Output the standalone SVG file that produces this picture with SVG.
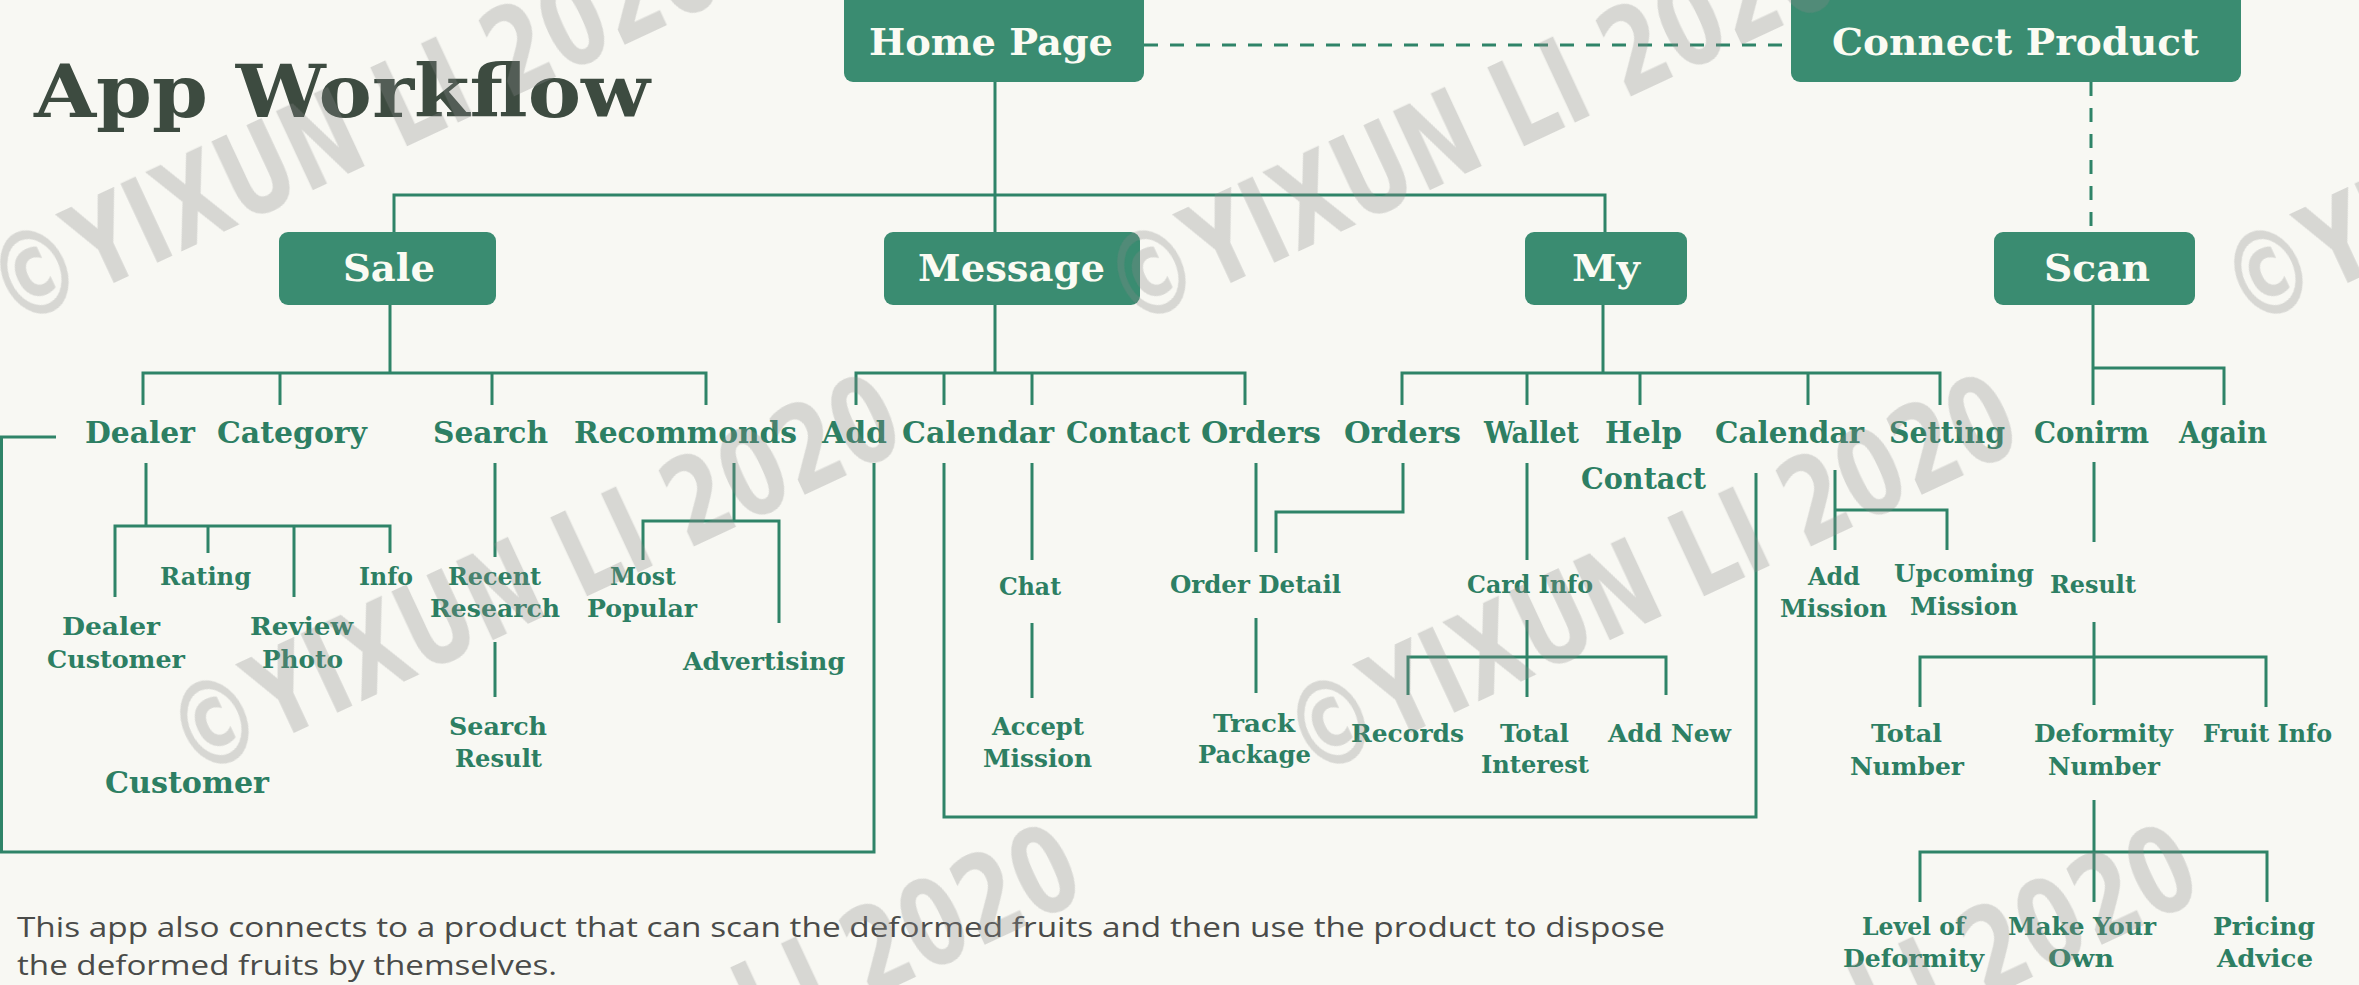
<svg xmlns="http://www.w3.org/2000/svg" width="2359" height="985" viewBox="0 0 2359 985">
<style>
.bx{fill:#3a8c71}
.bt{font-family:"DejaVu Serif Condensed","DejaVu Serif",serif;font-weight:bold;font-size:38px;fill:#fbfbf3}
.l1{font-family:"DejaVu Serif Condensed","DejaVu Serif",serif;font-weight:bold;font-size:29px;fill:#2d7f63}
.l2{font-family:"DejaVu Serif Condensed","DejaVu Serif",serif;font-weight:bold;font-size:24px;fill:#2d7f63}
.ttl{font-family:"DejaVu Serif Condensed","DejaVu Serif",serif;font-weight:bold;font-size:72px;fill:#3d4b40}
.desc{font-family:"Open Sans","Liberation Sans",sans-serif;font-size:28px;fill:#4a4b49}
.ln{stroke:#2f8468;stroke-width:3;fill:none}
.dash{stroke-dasharray:14 12}
.wm{font-family:"DejaVu Sans Condensed","DejaVu Sans",sans-serif;font-weight:bold;font-size:120px;fill:#8a8a8a}
</style>
<rect x="0" y="0" width="2359" height="985" fill="#f8f8f3"/>

<g id="connectors">
<path class="ln dash" d="M1144 45H1791"/>
<path class="ln dash" d="M2091 82V232"/>
<path class="ln" d="M995 82V232"/>
<path class="ln" d="M394 232V195H1605V232"/>
<path class="ln" d="M390 305V373M143 405V373H706V405M280 373V405M492 373V405"/>
<path class="ln" d="M995 305V373M856 405V373H1245V405M944 373V405M1032 373V405"/>
<path class="ln" d="M1603 305V373M1402 405V373H1940V405M1527 373V405M1640 373V405M1808 373V405"/>
<path class="ln" d="M2093 305V405M2093 368H2224V405"/>
<path class="ln" d="M146 463V526M115 597V526H390V553M208 526V553M294 526V597"/>
<path class="ln" d="M495 463V557M495 642V697"/>
<path class="ln" d="M734 463V521M643 560V521H779V623"/>
<path class="ln" d="M874 463V852H1.5V437H56"/>
<path class="ln" d="M944 463V817H1756V473"/>
<path class="ln" d="M1032 463V560M1032 623V698"/>
<path class="ln" d="M1256 463V552M1256 618V693"/>
<path class="ln" d="M1403 463V512H1276V553"/>
<path class="ln" d="M1527 463V560M1527 620V697M1408 695V657H1666V695"/>
<path class="ln" d="M1835 470V550M1835 510H1947V550"/>
<path class="ln" d="M2094 462V542M2094 622V705M1920 707V657H2266V707"/>
<path class="ln" d="M2094 800V902M1920 902V852H2267V902"/>
</g>

<g id="title"><text class="ttl" x="34" y="117" textLength="616" lengthAdjust="spacingAndGlyphs">App Workflow</text></g>

<g id="home-page"><rect class="bx" x="844" y="-10" width="300" height="92" rx="9"/><text class="bt" x="869" y="55" textLength="244" lengthAdjust="spacingAndGlyphs">Home Page</text></g>
<g id="connect-product"><rect class="bx" x="1791" y="-10" width="450" height="92" rx="9"/><text class="bt" x="1832" y="55" textLength="367" lengthAdjust="spacingAndGlyphs">Connect Product</text></g>
<g id="sale"><rect class="bx" x="279" y="232" width="217" height="73" rx="9"/><text class="bt" x="343" y="281" textLength="92" lengthAdjust="spacingAndGlyphs">Sale</text></g>
<g id="message"><rect class="bx" x="884" y="232" width="256" height="73" rx="9"/><text class="bt" x="918" y="281" textLength="187" lengthAdjust="spacingAndGlyphs">Message</text></g>
<g id="my"><rect class="bx" x="1525" y="232" width="162" height="73" rx="9"/><text class="bt" x="1572" y="281" textLength="68" lengthAdjust="spacingAndGlyphs">My</text></g>
<g id="scan"><rect class="bx" x="1994" y="232" width="201" height="73" rx="9"/><text class="bt" x="2044" y="281" textLength="106" lengthAdjust="spacingAndGlyphs">Scan</text></g>

<g id="dealer"><text class="l1" x="85" y="443" textLength="110" lengthAdjust="spacingAndGlyphs">Dealer</text></g>
<g id="category"><text class="l1" x="217" y="443" textLength="150" lengthAdjust="spacingAndGlyphs">Category</text></g>
<g id="search"><text class="l1" x="433" y="443" textLength="115" lengthAdjust="spacingAndGlyphs">Search</text></g>
<g id="recommonds"><text class="l1" x="574" y="443" textLength="223" lengthAdjust="spacingAndGlyphs">Recommonds</text></g>
<g id="add"><text class="l1" x="822" y="443" textLength="65" lengthAdjust="spacingAndGlyphs">Add</text></g>
<g id="calendar-msg"><text class="l1" x="902" y="443" textLength="152" lengthAdjust="spacingAndGlyphs">Calendar</text></g>
<g id="contact"><text class="l1" x="1066" y="443" textLength="124" lengthAdjust="spacingAndGlyphs">Contact</text></g>
<g id="orders-msg"><text class="l1" x="1201" y="443" textLength="120" lengthAdjust="spacingAndGlyphs">Orders</text></g>
<g id="orders-my"><text class="l1" x="1344" y="443" textLength="117" lengthAdjust="spacingAndGlyphs">Orders</text></g>
<g id="wallet"><text class="l1" x="1484" y="443" textLength="95" lengthAdjust="spacingAndGlyphs">Wallet</text></g>
<g id="help-contact"><text class="l1" x="1605" y="443" textLength="77" lengthAdjust="spacingAndGlyphs">Help</text><text class="l1" x="1581" y="489" textLength="125" lengthAdjust="spacingAndGlyphs">Contact</text></g>
<g id="calendar-my"><text class="l1" x="1715" y="443" textLength="149" lengthAdjust="spacingAndGlyphs">Calendar</text></g>
<g id="setting"><text class="l1" x="1889" y="443" textLength="116" lengthAdjust="spacingAndGlyphs">Setting</text></g>
<g id="conirm"><text class="l1" x="2034" y="443" textLength="115" lengthAdjust="spacingAndGlyphs">Conirm</text></g>
<g id="again"><text class="l1" x="2179" y="443" textLength="88" lengthAdjust="spacingAndGlyphs">Again</text></g>

<g id="rating"><text class="l2" x="160" y="585" textLength="91" lengthAdjust="spacingAndGlyphs">Rating</text></g>
<g id="info"><text class="l2" x="359" y="585" textLength="54" lengthAdjust="spacingAndGlyphs">Info</text></g>
<g id="dealer-customer"><text class="l2" x="62" y="635" textLength="98" lengthAdjust="spacingAndGlyphs">Dealer</text><text class="l2" x="47" y="668" textLength="138" lengthAdjust="spacingAndGlyphs">Customer</text></g>
<g id="review-photo"><text class="l2" x="250" y="635" textLength="103" lengthAdjust="spacingAndGlyphs">Review</text><text class="l2" x="262" y="668" textLength="81" lengthAdjust="spacingAndGlyphs">Photo</text></g>
<g id="recent-research"><text class="l2" x="448" y="585" textLength="93" lengthAdjust="spacingAndGlyphs">Recent</text><text class="l2" x="430" y="617" textLength="130" lengthAdjust="spacingAndGlyphs">Research</text></g>
<g id="search-result"><text class="l2" x="449" y="735" textLength="98" lengthAdjust="spacingAndGlyphs">Search</text><text class="l2" x="455" y="767" textLength="87" lengthAdjust="spacingAndGlyphs">Result</text></g>
<g id="most-popular"><text class="l2" x="610" y="585" textLength="66" lengthAdjust="spacingAndGlyphs">Most</text><text class="l2" x="587" y="617" textLength="110" lengthAdjust="spacingAndGlyphs">Popular</text></g>
<g id="advertising"><text class="l2" x="683" y="670" textLength="162" lengthAdjust="spacingAndGlyphs">Advertising</text></g>
<g id="customer"><text class="l1" x="105" y="793" textLength="164" lengthAdjust="spacingAndGlyphs">Customer</text></g>
<g id="chat"><text class="l2" x="999" y="595" textLength="62" lengthAdjust="spacingAndGlyphs">Chat</text></g>
<g id="accept-mission"><text class="l2" x="992" y="735" textLength="92" lengthAdjust="spacingAndGlyphs">Accept</text><text class="l2" x="983" y="767" textLength="109" lengthAdjust="spacingAndGlyphs">Mission</text></g>
<g id="order-detail"><text class="l2" x="1170" y="593" textLength="171" lengthAdjust="spacingAndGlyphs">Order Detail</text></g>
<g id="track-package"><text class="l2" x="1213" y="732" textLength="82" lengthAdjust="spacingAndGlyphs">Track</text><text class="l2" x="1198" y="763" textLength="113" lengthAdjust="spacingAndGlyphs">Package</text></g>
<g id="card-info"><text class="l2" x="1467" y="593" textLength="126" lengthAdjust="spacingAndGlyphs">Card Info</text></g>
<g id="records"><text class="l2" x="1351" y="742" textLength="113" lengthAdjust="spacingAndGlyphs">Records</text></g>
<g id="total-interest"><text class="l2" x="1500" y="742" textLength="69" lengthAdjust="spacingAndGlyphs">Total</text><text class="l2" x="1481" y="773" textLength="108" lengthAdjust="spacingAndGlyphs">Interest</text></g>
<g id="add-new"><text class="l2" x="1608" y="742" textLength="123" lengthAdjust="spacingAndGlyphs">Add New</text></g>
<g id="add-mission"><text class="l2" x="1808" y="585" textLength="52" lengthAdjust="spacingAndGlyphs">Add</text><text class="l2" x="1780" y="617" textLength="107" lengthAdjust="spacingAndGlyphs">Mission</text></g>
<g id="upcoming-mission"><text class="l2" x="1894" y="582" textLength="140" lengthAdjust="spacingAndGlyphs">Upcoming</text><text class="l2" x="1910" y="615" textLength="108" lengthAdjust="spacingAndGlyphs">Mission</text></g>
<g id="result"><text class="l2" x="2050" y="593" textLength="86" lengthAdjust="spacingAndGlyphs">Result</text></g>
<g id="total-number"><text class="l2" x="1871" y="742" textLength="71" lengthAdjust="spacingAndGlyphs">Total</text><text class="l2" x="1850" y="775" textLength="114" lengthAdjust="spacingAndGlyphs">Number</text></g>
<g id="deformity-number"><text class="l2" x="2034" y="742" textLength="139" lengthAdjust="spacingAndGlyphs">Deformity</text><text class="l2" x="2048" y="775" textLength="112" lengthAdjust="spacingAndGlyphs">Number</text></g>
<g id="fruit-info"><text class="l2" x="2203" y="742" textLength="129" lengthAdjust="spacingAndGlyphs">Fruit Info</text></g>
<g id="level-of-deformity"><text class="l2" x="1862" y="935" textLength="103" lengthAdjust="spacingAndGlyphs">Level of</text><text class="l2" x="1843" y="967" textLength="141" lengthAdjust="spacingAndGlyphs">Deformity</text></g>
<g id="make-your-own"><text class="l2" x="2008" y="935" textLength="148" lengthAdjust="spacingAndGlyphs">Make Your</text><text class="l2" x="2048" y="967" textLength="66" lengthAdjust="spacingAndGlyphs">Own</text></g>
<g id="pricing-advice"><text class="l2" x="2213" y="935" textLength="102" lengthAdjust="spacingAndGlyphs">Pricing</text><text class="l2" x="2217" y="967" textLength="96" lengthAdjust="spacingAndGlyphs">Advice</text></g>

<g id="description">
<text class="desc" x="17" y="937" textLength="1648" lengthAdjust="spacingAndGlyphs">This app also connects to a product that can scan the deformed fruits and then use the product to dispose</text>
<text class="desc" x="17" y="975" textLength="540" lengthAdjust="spacingAndGlyphs">the deformed fruits by themselves.</text>
</g>

<g id="watermark" opacity="0.3">
<text class="wm" transform="translate(13 330) rotate(-25)" textLength="790" lengthAdjust="spacingAndGlyphs">©YIXUN LI 2020</text>
<text class="wm" transform="translate(1130 330) rotate(-25)" textLength="790" lengthAdjust="spacingAndGlyphs">©YIXUN LI 2020</text>
<text class="wm" transform="translate(2247 330) rotate(-25)" textLength="790" lengthAdjust="spacingAndGlyphs">©YIXUN LI 2020</text>
<text class="wm" transform="translate(193 780) rotate(-25)" textLength="790" lengthAdjust="spacingAndGlyphs">©YIXUN LI 2020</text>
<text class="wm" transform="translate(1310 780) rotate(-25)" textLength="790" lengthAdjust="spacingAndGlyphs">©YIXUN LI 2020</text>
<text class="wm" transform="translate(373 1230) rotate(-25)" textLength="790" lengthAdjust="spacingAndGlyphs">©YIXUN LI 2020</text>
<text class="wm" transform="translate(1490 1230) rotate(-25)" textLength="790" lengthAdjust="spacingAndGlyphs">©YIXUN LI 2020</text>
</g>
</svg>
